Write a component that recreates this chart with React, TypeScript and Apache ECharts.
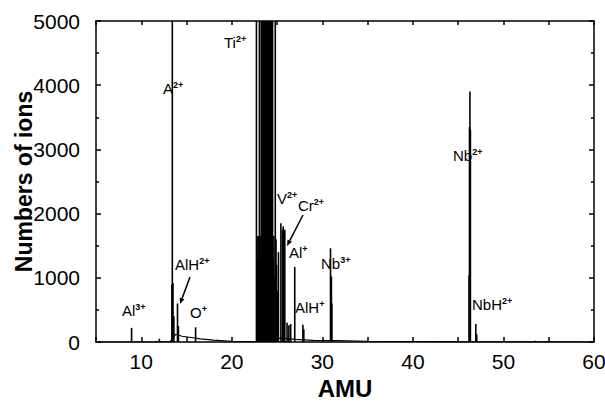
import React, { useEffect, useRef } from "react";
import * as echarts from "echarts";

// Peak positions (AMU) and ion counts
const peakAmu = [
  8.93, 12.0, 13.38, 13.43, 13.5, 13.6, 14.0, 14.1, 16.0,
  22.72, 22.78, 22.85, 22.92, 22.98, 23.05, 23.1, 23.15, 23.2, 23.25, 23.3, 23.35, 23.4, 23.45, 23.5,
  23.55, 23.6, 23.65, 23.7, 23.75, 23.8, 23.85, 23.9, 23.95, 24.0, 24.05, 24.1, 24.15, 24.2, 24.25,
  24.3, 24.35, 24.4, 24.45, 24.5, 24.58, 24.65, 24.72, 24.8, 24.88, 24.95, 25.05, 25.15,
  25.42, 25.6, 25.68, 25.75, 25.85, 26.1, 26.3, 26.5, 26.95, 27.85, 27.95,
  30.9, 31.0, 31.05, 46.2, 46.25, 46.3, 46.35, 46.95, 47.05, 53.5,
];
const peakCounts = [
  220, 50, 900, 6000, 920, 400, 600, 250, 230,
  6000, 1650, 1300, 1650, 600, 6000, 1600, 900, 1650, 6000, 1400, 6000, 1700, 6000, 6000,
  6000, 6000, 6000, 6000, 6000, 6000, 6000, 6000, 6000, 6000, 6000, 6000, 6000, 6000, 6000,
  6000, 6000, 6000, 6000, 6000, 1300, 1650, 1000, 6000, 1600, 1200, 800, 1400,
  1850, 1750, 1800, 1700, 1750, 300, 260, 280, 1170, 270, 200,
  1460, 1020, 600, 1040, 3350, 3900, 3300, 280, 120, 20,
];
// Low continuous background (AMU, counts)
const bgAmu = [5, 11.5, 13.2, 13.8, 14.5, 15.5, 16.5, 18, 20, 22.5, 25.5, 27, 29, 31.5, 35, 40, 45, 50, 55, 60];
const bgCounts = [0, 3, 8, 120, 90, 70, 50, 30, 12, 6, 60, 40, 25, 20, 12, 8, 5, 4, 2, 0];

const xTicks = [10, 20, 30, 40, 50, 60];
const yTicks = [0, 1000, 2000, 3000, 4000, 5000];

const FONT = "Liberation Sans, Arial, sans-serif";

function lab(x: number, y: number, base: string, sup: string) {
  return {
    type: "text",
    x,
    y,
    style: {
      text: `{b|${base}}{s|${sup}}`,
      fill: "#000",
      font: `14px ${FONT}`,
      rich: {
        b: { fontSize: 15, fontFamily: FONT, lineHeight: 16, verticalAlign: "bottom", fill: "#000" },
        s: { fontSize: 9, fontFamily: FONT, fontWeight: "bold", lineHeight: 16, verticalAlign: "top", padding: [0, 0, 7, 0], fill: "#000" },
      },
      verticalAlign: "middle",
    },
  };
}

function arrow(x1: number, y1: number, x2: number, y2: number) {
  const ang = Math.atan2(y2 - y1, x2 - x1);
  const L = 6;
  const W = 2.5;
  const bx = x2 - L * Math.cos(ang);
  const by = y2 - L * Math.sin(ang);
  const px = -Math.sin(ang) * W;
  const py = Math.cos(ang) * W;
  return [
    { type: "line", shape: { x1, y1, x2: bx, y2: by }, style: { stroke: "#000", lineWidth: 1.5 } },
    { type: "polygon", shape: { points: [[x2, y2], [bx + px, by + py], [bx - px, by - py]] }, style: { fill: "#000" } },
  ];
}

export default function App() {
  const ref = useRef<HTMLDivElement>(null);
  useEffect(() => {
    if (!ref.current) return;
    const chart = echarts.init(ref.current, null, { renderer: "svg" });
    const peaks = peakAmu.map((a, i) => [a, peakCounts[i]]);
    const bg = bgAmu.map((a, i) => [a, bgCounts[i]]);
    const axisLine = { show: true, onZero: false, lineStyle: { color: "#000", width: 1.5 } };
    const tick = { inside: true, length: 5, lineStyle: { color: "#000", width: 1.5 } };
    chart.setOption({
      animation: false,
      backgroundColor: "#fff",
      grid: { left: 96, right: 11, top: 21, bottom: 66, containLabel: false, outerBoundsMode: "none" },
      xAxis: [
        {
          type: "value",
          min: 5,
          max: 60,
          interval: 5,
          axisLine,
          axisTick: tick,
          axisLabel: {
            color: "#000",
            fontSize: 21,
            fontFamily: FONT,
            margin: 9,
            formatter: (v: number) => (xTicks.includes(v) ? String(v) : ""),
          },
          splitLine: { show: false },
          name: "AMU",
          nameLocation: "middle",
          nameGap: 32,
          nameTextStyle: { color: "#000", fontSize: 24, fontWeight: "bold", fontFamily: FONT },
        },
        {
          type: "value",
          position: "top",
          min: 5,
          max: 60,
          interval: 5,
          axisLine,
          axisTick: { ...tick, length: 4 },
          axisLabel: { show: false },
          splitLine: { show: false },
        },
      ],
      yAxis: [
        {
          type: "value",
          min: 0,
          max: 5000,
          interval: 1000,
          axisLine,
          axisTick: tick,
          minorTick: { show: true, splitNumber: 2, length: 3, lineStyle: { color: "#000", width: 1.5 } },
          axisLabel: {
            color: "#000",
            fontSize: 21,
            fontFamily: FONT,
            margin: 16,
            formatter: (v: number) => (yTicks.includes(v) ? String(v) : ""),
          },
          splitLine: { show: false },
          name: "Numbers of ions",
          nameLocation: "middle",
          nameGap: 61,
          nameMoveOverlap: false,
          nameTextStyle: { color: "#000", fontSize: 23, fontWeight: "bold", fontFamily: FONT },
        },
        {
          type: "value",
          position: "right",
          min: 0,
          max: 5000,
          interval: 1000,
          axisLine,
          axisTick: tick,
          minorTick: { show: true, splitNumber: 2, length: 3, lineStyle: { color: "#000", width: 1.5 } },
          axisLabel: { show: false },
          splitLine: { show: false },
        },
      ],
      series: [
        {
          type: "line",
          data: bg,
          symbol: "none",
          lineStyle: { color: "#000", width: 1.2 },
          clip: true,
          z: 1,
        },
        {
          type: "bar",
          data: peaks,
          barWidth: 1.6,
          itemStyle: { color: "#000" },
          clip: true,
          z: 2,
        },
      ],
      graphic: [
        lab(122, 310, "Al", "3+"),
        lab(163, 88, "A", "2+"),
        lab(224, 42, "Ti", "2+"),
        lab(175, 264, "AlH", "2+"),
        lab(190, 312, "O", "+"),
        lab(277, 198, "V", "2+"),
        lab(298, 205, "Cr", "2+"),
        lab(289, 252, "Al", "+"),
        lab(295, 307, "AlH", "+"),
        lab(321, 263, "Nb", "3+"),
        lab(453, 155, "Nb", "2+"),
        lab(472, 304, "NbH", "2+"),
        ...arrow(190, 277, 180, 304),
        ...arrow(303, 215, 287, 246),
      ],
    });
    return () => chart.dispose();
  }, []);
  return <div ref={ref} style={{ width: 605, height: 408, position: "absolute", left: 0, top: 0 }} />;
}
